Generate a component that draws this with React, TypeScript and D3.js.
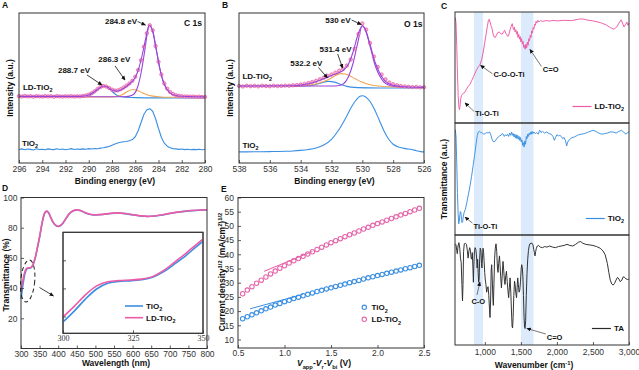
import { useRef, useEffect } from 'react';
import * as d3 from 'd3';

type Pt = [number, number];
type G = d3.Selection<SVGGElement, unknown, null, undefined>;
type Seg = { t: string; s?: 'sub' | 'sup'; i?: boolean };

const FONT = 'Arial, "Liberation Sans", Helvetica, sans-serif';
const PINK = '#ee5aa6';
const BLUE = '#3a8fe2';
const PURPLE = '#9a45d8';
const ORANGE = '#f0a552';
const DARK = '#2a2a2a';
const AXIS = '#333';
const BAND = '#dcebfb';

// ---- A: C 1s ----
const c1sEnergy = [296, 295.75, 295.5, 295.25, 295, 294.75, 294.5, 294.25, 294, 293.75, 293.5, 293.25, 293, 292.75, 292.5, 292.25, 292, 291.75, 291.5, 291.25, 291, 290.75, 290.5, 290.25, 290, 289.75, 289.5, 289.25, 289, 288.75, 288.5, 288.25, 288, 287.75, 287.5, 287.25, 287, 286.75, 286.5, 286.25, 286, 285.75, 285.5, 285.25, 285, 284.75, 284.5, 284.25, 284, 283.75, 283.5, 283.25, 283, 282.75, 282.5, 282.25, 282, 281.75, 281.5, 281.25, 281, 280.75, 280.5, 280.25, 280];
const c1sLD = [44.6, 44.3, 44.7, 44.4, 44.5, 44.2, 44.6, 44.4, 44.3, 44.6, 44.4, 44.5, 44.2, 44.6, 44.4, 44.3, 44.5, 44.4, 44.6, 44.3, 44.5, 44.4, 44.7, 45.0, 45.6, 46.5, 47.8, 49.3, 50.6, 51.3, 51.0, 50.0, 48.9, 48.3, 48.4, 49.2, 50.3, 51.6, 53.0, 54.8, 57.5, 62.0, 68.5, 77.5, 86.5, 91.8, 88.5, 78.0, 67.5, 59.0, 53.0, 49.5, 47.3, 46.0, 45.2, 44.8, 44.5, 44.3, 44.4, 44.2, 44.3, 44.1, 44.2, 44.0, 44.1];
const c1sTiO2 = [9.0, 9.4, 8.8, 9.3, 9.1, 8.7, 9.5, 9.0, 9.2, 8.8, 9.4, 9.1, 8.9, 9.5, 9.0, 9.3, 8.8, 9.2, 9.6, 9.0, 9.3, 9.1, 9.4, 9.2, 9.6, 9.3, 9.7, 9.5, 9.9, 10.2, 10.6, 11.0, 11.8, 12.6, 13.3, 13.8, 14.2, 14.3, 14.8, 15.6, 17.5, 21.5, 27.0, 32.5, 35.5, 36.2, 34.5, 29.5, 23.0, 17.0, 13.2, 11.2, 10.2, 9.6, 9.4, 9.1, 9.3, 8.9, 9.2, 8.8, 9.1, 8.9, 9.2, 8.8, 9.0];
const c1sFit: Pt[] = [[296, 44.4], [291, 44.4], [290.5, 44.6], [290, 45.4], [289.5, 47.6], [289, 50.4], [288.7, 51.3], [288.4, 50.6], [288, 48.6], [287.6, 47.9], [287.2, 48.8], [286.8, 50.8], [286.4, 53.5], [286, 57.0], [285.7, 63.0], [285.4, 72.0], [285.1, 83.0], [284.8, 91.8], [284.5, 88.0], [284.2, 76.0], [283.9, 63.5], [283.6, 54.5], [283.3, 49.5], [283, 46.8], [282.5, 45.0], [282, 44.5], [281, 44.2], [280, 44.1]];
const c1sPeak284: Pt[] = [[296, 44.2], [287, 44.2], [286.5, 44.6], [286.1, 46.0], [285.8, 50.5], [285.5, 60.0], [285.2, 74.0], [284.95, 87.0], [284.8, 91.8], [284.5, 88.0], [284.2, 76.0], [283.9, 63.5], [283.6, 54.5], [283.3, 49.5], [283, 46.8], [282.5, 45.0], [282, 44.5], [280, 44.1]];
const c1sPeak286: Pt[] = [[296, 44.0], [288, 44.0], [287.5, 44.5], [287, 46.0], [286.6, 48.0], [286.2, 49.0], [285.8, 48.3], [285.4, 46.8], [285, 45.5], [284.5, 44.6], [284, 44.2], [283, 43.8], [280, 43.6]];
const c1sPeak288: Pt[] = [[296, 44.2], [290.5, 44.3], [290, 44.9], [289.5, 47.0], [289.1, 50.0], [288.7, 51.3], [288.3, 50.0], [287.9, 47.0], [287.5, 44.9], [287, 44.0], [286, 43.6], [284, 43.4], [280, 43.3]];

// ---- B: O 1s ----
const o1sEnergy = [538, 537.75, 537.5, 537.25, 537, 536.75, 536.5, 536.25, 536, 535.75, 535.5, 535.25, 535, 534.75, 534.5, 534.25, 534, 533.75, 533.5, 533.25, 533, 532.75, 532.5, 532.25, 532, 531.75, 531.5, 531.25, 531, 530.75, 530.5, 530.25, 530, 529.75, 529.5, 529.25, 529, 528.75, 528.5, 528.25, 528, 527.75, 527.5, 527.25, 527, 526.75, 526.5, 526.25, 526];
const o1sLD = [51.4, 51.0, 51.5, 51.2, 51.4, 51.1, 51.5, 51.3, 51.2, 51.5, 51.3, 51.4, 51.6, 51.5, 51.8, 52.0, 52.3, 52.7, 53.3, 54.0, 54.8, 55.8, 56.9, 58.0, 59.0, 60.2, 61.5, 63.0, 65.0, 69.0, 76.0, 86.0, 93.0, 89.0, 80.0, 71.0, 64.0, 59.0, 55.8, 53.7, 52.5, 51.8, 51.3, 51.0, 50.8, 50.6, 50.7, 50.4, 50.5];
const o1sTiO2: Pt[] = [[538, 7.4], [537, 7.5], [536, 7.6], [535, 7.8], [534.5, 8.0], [534, 8.4], [533.5, 9.0], [533, 10.0], [532.5, 12.0], [532, 15.8], [531.5, 22.5], [531, 31.5], [530.7, 37.5], [530.4, 42.0], [530.2, 44.2], [530, 44.8], [529.8, 44.2], [529.5, 41.0], [529.2, 35.5], [528.9, 28.5], [528.6, 21.5], [528.3, 16.0], [528, 12.5], [527.6, 10.5], [527.2, 9.6], [526.8, 9.0], [526.5, 8.2], [526.2, 7.6], [526, 7.4]];
const o1sFit: Pt[] = [[538, 51.3], [534.5, 51.5], [534, 51.9], [533.5, 52.8], [533, 54.2], [532.5, 56.2], [532, 58.3], [531.5, 60.3], [531.2, 62.0], [530.9, 66.0], [530.6, 74.0], [530.3, 85.0], [530, 91.5], [529.8, 89.0], [529.5, 79.0], [529.2, 68.0], [528.9, 60.5], [528.6, 55.5], [528.3, 53.0], [528, 51.8], [527.5, 51.0], [527, 50.7], [526, 50.4]];
const o1sPeak530: Pt[] = [[538, 51.3], [532, 51.3], [531.5, 51.7], [531.2, 53.0], [530.9, 57.5], [530.6, 66.5], [530.3, 80.0], [530, 91.5], [529.8, 88.5], [529.5, 78.0], [529.2, 66.0], [528.9, 58.5], [528.6, 54.0], [528.3, 52.0], [528, 51.2], [527, 50.6], [526, 50.4]];
const o1sPeak531: Pt[] = [[538, 51.3], [534, 51.4], [533.5, 51.8], [533, 52.7], [532.5, 54.3], [532, 56.7], [531.7, 58.5], [531.4, 59.6], [531.1, 59.3], [530.8, 58.0], [530.4, 55.8], [530, 53.8], [529.5, 52.2], [529, 51.3], [528, 50.7], [526, 50.4]];
const o1sPeak532: Pt[] = [[538, 51.2], [534, 51.3], [533.5, 51.6], [533, 52.4], [532.6, 53.6], [532.2, 54.4], [531.8, 53.9], [531.4, 52.4], [531, 51.1], [530.5, 50.4], [529.5, 50.1], [528, 50.0], [526, 50.0]];

// ---- C: FTIR ----
const ftirBands: Pt[] = [[850, 975], [1500, 1675]];
const ftirLD: Pt[] = [[590, 95], [600, 90], [610, 70], [620, 45], [630, 25], [640, 14], [648, 12], [656, 15], [665, 22], [678, 25], [695, 26.5], [710, 27], [725, 28], [745, 30.5], [770, 33], [795, 35], [820, 38.5], [845, 42], [865, 45], [890, 48.5], [915, 51], [935, 53], [955, 57], [975, 63], [995, 71], [1015, 79], [1035, 87], [1050, 92.5], [1060, 93.5], [1072, 91], [1085, 88], [1100, 85], [1115, 80], [1130, 77.5], [1145, 77], [1160, 79], [1180, 81.5], [1200, 82], [1220, 80.5], [1240, 80], [1260, 82], [1275, 83.5], [1290, 81], [1305, 79.5], [1320, 78], [1335, 80], [1350, 84], [1365, 87], [1380, 89.5], [1390, 86], [1400, 84], [1410, 86.5], [1420, 82], [1430, 84], [1440, 80], [1450, 82.5], [1460, 77], [1470, 80], [1480, 75.5], [1490, 78], [1500, 73], [1510, 76], [1520, 71], [1530, 73.5], [1540, 68], [1550, 70], [1560, 66.5], [1570, 71], [1580, 67.5], [1590, 73], [1600, 70], [1610, 76], [1620, 74], [1630, 79], [1640, 77], [1650, 83], [1660, 81], [1670, 86], [1680, 84.5], [1690, 89], [1700, 88], [1710, 91.5], [1720, 90], [1735, 92.5], [1750, 91], [1770, 92.3], [1800, 91.5], [1850, 92.3], [1900, 91.8], [1950, 92.5], [2000, 92], [2100, 92.5], [2200, 92.2], [2300, 93.5], [2350, 93.8], [2400, 93], [2500, 92], [2600, 90.5], [2680, 88.5], [2740, 86], [2790, 84.5], [2830, 86.5], [2860, 90], [2890, 93], [2910, 90], [2930, 86.5], [2950, 88.5], [2970, 91], [2985, 88], [3000, 90]];
const ftirTiO2: Pt[] = [[590, 94], [600, 88], [610, 65], [620, 38], [630, 18], [638, 10], [645, 12], [652, 17], [660, 21], [668, 20], [676, 14], [684, 11], [692, 12], [700, 16], [712, 20], [730, 23], [750, 29], [770, 35.5], [795, 44], [815, 52], [840, 63], [860, 72], [880, 82], [895, 89], [910, 92], [925, 92.5], [945, 91.5], [965, 91], [985, 90], [1005, 90.5], [1025, 91.5], [1045, 91], [1065, 92], [1080, 90], [1095, 86.5], [1110, 84], [1125, 83], [1145, 84], [1165, 86], [1185, 87.5], [1205, 88.5], [1225, 89], [1240, 90.5], [1255, 90], [1270, 88], [1285, 89.5], [1300, 88.5], [1315, 90], [1330, 88], [1345, 91], [1360, 89], [1372, 92], [1385, 89], [1395, 90.5], [1405, 87.5], [1415, 90], [1425, 86.5], [1435, 89.5], [1445, 86], [1455, 89], [1465, 85.5], [1475, 88], [1485, 84.5], [1495, 87], [1505, 83], [1515, 85], [1525, 80], [1535, 82.5], [1545, 78.5], [1555, 84], [1565, 81], [1575, 88], [1585, 86], [1595, 90], [1605, 88], [1615, 91], [1625, 89.5], [1635, 92], [1645, 90], [1655, 92.5], [1665, 90.5], [1680, 92], [1700, 90.5], [1720, 91.5], [1740, 90], [1760, 93.5], [1780, 91.5], [1800, 92.5], [1830, 91], [1860, 92], [1890, 90.5], [1920, 90], [1945, 88], [1965, 84.5], [1980, 87], [2000, 89.5], [2020, 88.5], [2040, 89], [2060, 88], [2080, 86], [2100, 87], [2120, 84], [2135, 79.5], [2150, 83], [2170, 85], [2190, 86], [2210, 87], [2240, 87.5], [2270, 88.5], [2300, 89.5], [2340, 90], [2380, 90.5], [2420, 91.5], [2460, 92.5], [2500, 93.5], [2540, 92.5], [2580, 91], [2620, 90], [2660, 90.5], [2700, 91], [2740, 92], [2780, 92], [2820, 91], [2860, 92.5], [2895, 93.5], [2930, 91.5], [2960, 90], [2980, 91.5], [3000, 92]];
const ftirTA: Pt[] = [[590, 92], [600, 91], [610, 86], [618, 83], [628, 90], [640, 93], [652, 88], [662, 79], [672, 75], [682, 55], [690, 40], [697, 55], [705, 85], [715, 92], [730, 92.5], [745, 91.5], [757, 86], [768, 79], [778, 85], [790, 88.5], [800, 86], [810, 79], [818, 78], [826, 84], [835, 70], [841, 57], [847, 72], [856, 86], [865, 88.5], [875, 87], [885, 80], [893, 70], [900, 78], [907, 66], [914, 57], [921, 60], [928, 78], [936, 88], [946, 86], [954, 74], [960, 70], [967, 80], [975, 88], [983, 84], [990, 76], [998, 66], [1005, 60], [1015, 55], [1025, 48], [1035, 52], [1045, 53], [1055, 45], [1065, 32], [1072, 25], [1080, 40], [1088, 68], [1095, 73], [1103, 60], [1112, 42], [1118, 36], [1126, 55], [1135, 78], [1145, 88], [1155, 92], [1165, 85], [1175, 70], [1183, 66], [1192, 74], [1203, 81], [1212, 72], [1222, 60], [1230, 52], [1240, 62], [1252, 76], [1262, 68], [1272, 58], [1280, 55], [1290, 63], [1300, 67], [1310, 58], [1320, 50], [1330, 43], [1340, 52], [1350, 61], [1360, 48], [1370, 30], [1378, 17], [1385, 15.5], [1392, 25], [1402, 45], [1412, 58], [1420, 55], [1430, 47], [1440, 43], [1448, 52], [1456, 61], [1465, 55], [1475, 48], [1485, 50], [1495, 58], [1505, 70], [1512, 73], [1520, 70], [1528, 62], [1536, 45], [1544, 25], [1552, 16], [1558, 15], [1566, 22], [1575, 45], [1585, 65], [1595, 78], [1605, 86], [1615, 90], [1625, 92], [1640, 92.5], [1655, 92.5], [1668, 91], [1678, 87], [1688, 84], [1696, 81], [1705, 85], [1715, 88], [1728, 90], [1745, 90.5], [1770, 89], [1800, 88.5], [1830, 89.5], [1860, 89], [1900, 90], [1940, 89], [1980, 88.5], [2020, 89.5], [2060, 90], [2100, 90.5], [2140, 91.5], [2180, 90.5], [2220, 90], [2260, 91.5], [2300, 93.5], [2330, 94], [2360, 92.5], [2400, 91.5], [2450, 91], [2500, 90.5], [2550, 89.5], [2600, 88], [2640, 85.5], [2670, 82], [2700, 74], [2720, 66], [2740, 59], [2760, 55.5], [2780, 54.5], [2800, 56], [2820, 59], [2840, 61.5], [2860, 60], [2880, 57.5], [2900, 59], [2920, 62], [2940, 61.5], [2960, 60], [2980, 59.5], [3000, 60]];

// ---- D: UV-vis transmittance ----
const uvWave = [300, 305, 310, 315, 320, 325, 330, 335, 340, 345, 350, 355, 360, 365, 370, 375, 380, 385, 390, 395, 400, 405, 410, 420, 430, 440, 450, 460, 470, 480, 490, 500, 520, 540, 560, 580, 600, 620, 640, 660, 680, 700, 720, 740, 760, 780, 800];
const uvLD = [38, 45, 50.5, 53, 53.5, 53.5, 54.5, 57.5, 62, 68, 74, 81, 87, 90.3, 91, 89.6, 86.8, 84.2, 82.4, 81.4, 81, 81.3, 82.3, 85.8, 89.3, 91.2, 91.8, 91.4, 90.3, 89.3, 88.7, 88.5, 88.8, 89.5, 89.8, 89.4, 88.6, 87.9, 87.5, 87.8, 88.6, 89.5, 90.3, 90.9, 91.4, 91.7, 91.8];
const uvTiO2 = [33, 42, 49, 52.5, 53.2, 53.3, 54.3, 57.2, 61.7, 67.7, 73.7, 80.8, 86.8, 90.2, 90.9, 89.5, 86.7, 84.1, 82.3, 81.3, 80.9, 81.2, 82.2, 85.7, 89.2, 91.1, 91.7, 91.3, 90.2, 89.2, 88.6, 88.4, 88.7, 89.4, 89.7, 89.3, 88.5, 87.8, 87.4, 87.7, 88.5, 89.4, 90.2, 90.8, 91.3, 91.6, 91.7];
const insetWave = [300, 304, 308, 312, 316, 320, 324, 328, 332, 336, 340, 344, 348, 350];
const insetLD = [39.8, 43.6, 47.7, 50.9, 52.4, 52.8, 53.0, 53.3, 54.2, 56.4, 59.5, 62.6, 66.0, 67.6];
const insetTiO2 = [38.0, 41.9, 46.2, 49.8, 51.8, 52.5, 52.7, 53.1, 54.0, 56.0, 58.8, 61.8, 65.2, 66.8];

// ---- E: Mott-Schottky style J^1/2 vs V ----
const volts = [0.55, 0.6, 0.65, 0.7, 0.75, 0.8, 0.85, 0.9, 0.95, 1.0, 1.05, 1.1, 1.15, 1.2, 1.25, 1.3, 1.35, 1.4, 1.45, 1.5, 1.55, 1.6, 1.65, 1.7, 1.75, 1.8, 1.85, 1.9, 1.95, 2.0, 2.05, 2.1, 2.15, 2.2, 2.25, 2.3, 2.35, 2.4, 2.45];
const jTiO2 = [17.3, 18.0, 18.7, 19.4, 20.1, 20.8, 21.4, 22.1, 22.7, 23.3, 23.8, 24.4, 24.9, 25.4, 25.9, 26.4, 26.9, 27.3, 27.8, 28.2, 28.7, 29.1, 29.5, 30.0, 30.4, 30.8, 31.3, 31.7, 32.1, 32.5, 32.9, 33.3, 33.7, 34.1, 34.5, 34.9, 35.3, 35.7, 36.1];
const jLD = [26.1, 27.4, 28.6, 29.8, 30.9, 32.0, 33.1, 34.1, 35.1, 36.0, 36.9, 37.7, 38.5, 39.3, 40.1, 40.9, 41.7, 42.5, 43.3, 44.1, 44.8, 45.5, 46.2, 46.9, 47.5, 48.2, 48.9, 49.5, 50.2, 50.8, 51.4, 52.0, 52.6, 53.2, 53.8, 54.4, 55.0, 55.6, 56.2];
const fitTiO2: Pt[] = [[0.63, 20.8], [1.2, 25.9]];
const fitLD: Pt[] = [[0.78, 34.0], [1.3, 41.0]];

const sub2 = (a: string): Seg[] => [{ t: a }, { t: '2', s: 'sub' }];

function rich(g: G, x: number, y: number, segs: Seg[] | string, size: number,
  o: { bold?: boolean; anchor?: string; rotate?: boolean; family?: string; fill?: string } = {}) {
  const list: Seg[] = typeof segs === 'string' ? [{ t: segs }] : segs;
  const t = g.append('text')
    .attr('font-family', o.family ?? FONT)
    .attr('font-size', size)
    .attr('font-weight', o.bold ? 'bold' : 'normal')
    .attr('fill', o.fill ?? '#111')
    .attr('text-anchor', o.anchor ?? 'start');
  if (o.rotate) t.attr('transform', `translate(${x},${y}) rotate(-90)`);
  else t.attr('x', x).attr('y', y);
  let shift = 0;
  list.forEach((s) => {
    const target = s.s === 'sub' ? size * 0.3 : s.s === 'sup' ? -size * 0.38 : 0;
    const ts = t.append('tspan').attr('dy', target - shift).text(s.t);
    if (s.s) ts.attr('font-size', size * 0.68);
    if (s.i) ts.attr('font-style', 'italic');
    shift = target;
  });
  return t;
}

function path(g: G, data: Pt[], x: any, y: any, color: string, width: number, curve: any = d3.curveMonotoneX) {
  const ln = d3.line<Pt>().x((d) => x(d[0])).y((d) => y(d[1])).curve(curve);
  g.append('path').datum(data).attr('d', ln).attr('fill', 'none')
    .attr('stroke', color).attr('stroke-width', width).attr('stroke-linejoin', 'round');
}

function arrow(g: G, x1: number, y1: number, x2: number, y2: number, color = '#111') {
  g.append('line').attr('x1', x1).attr('y1', y1).attr('x2', x2).attr('y2', y2)
    .attr('stroke', color).attr('stroke-width', 0.8).attr('marker-end', 'url(#ah)');
}

function frame(g: G, x: any, y: any, fill = 'none') {
  const [x0, x1] = d3.extent(x.range() as number[]) as [number, number];
  const [y0, y1] = d3.extent(y.range() as number[]) as [number, number];
  g.append('rect').attr('x', x0).attr('y', y0).attr('width', x1 - x0).attr('height', y1 - y0)
    .attr('fill', fill).attr('stroke', AXIS).attr('stroke-width', 1);
}

function styleAxis(a: G, size = 8.5, family = FONT) {
  a.select('.domain').remove();
  a.attr('font-size', size).attr('font-family', family).attr('color', AXIS);
  a.selectAll('line').attr('stroke-width', 0.8);
}

function bottomAxis(g: G, x: any, y: number, ticks: number[], pad: number, fmt?: (d: number) => string) {
  const ax = d3.axisBottom(x).tickValues(ticks).tickSizeInner(-3).tickSizeOuter(0).tickPadding(pad);
  if (fmt) ax.tickFormat((d: any) => fmt(d));
  const a = g.append('g').attr('transform', `translate(0,${y})`).call(ax as any) as G;
  styleAxis(a);
}

function leftAxis(g: G, y: any, x: number, ticks: number[], pad: number) {
  const ax = d3.axisLeft(y).tickValues(ticks).tickSizeInner(-3).tickSizeOuter(0).tickPadding(pad)
    .tickFormat((d: any) => d3.format('d')(d));
  const a = g.append('g').attr('transform', `translate(${x},0)`).call(ax as any) as G;
  styleAxis(a);
}

function drawXps(root: G, cfg: {
  domain: [number, number]; xr: [number, number]; energy: number[]; raw: number[];
  ref: Pt[]; refCurve: any; comps: [Pt[], string][]; fit: Pt[]; ticks: number[];
}) {
  const g = root.append('g') as G;
  const x = d3.scaleLinear().domain(cfg.domain).range(cfg.xr);
  const y = d3.scaleLinear().domain([0, 100]).range([163, 13]);
  path(g, cfg.ref, x, y, BLUE, 1.1, cfg.refCurve);
  cfg.comps.forEach(([d, c]) => path(g, d, x, y, c, 1.1));
  g.append('g').selectAll('circle').data(cfg.energy.map((e, i) => [e, cfg.raw[i]] as Pt)).join('circle')
    .attr('cx', (d) => x(d[0])).attr('cy', (d) => y(d[1])).attr('r', 1.7)
    .attr('fill', '#f6b3d4').attr('stroke', '#e6559e').attr('stroke-width', 0.7);
  path(g, cfg.fit, x, y, PURPLE, 1.1);
  frame(g, x, y);
  bottomAxis(g, x, 163, cfg.ticks, 3);
  const cx = (cfg.xr[0] + cfg.xr[1]) / 2;
  rich(g, cx + 3, 184, 'Binding energy (eV)', 8.5, { bold: true, anchor: 'middle' });
  rich(g, cfg.xr[0] - 6, 88, 'Intensity (a.u.)', 8.5, { bold: true, anchor: 'middle', rotate: true });
  return { g, x, y };
}

function drawA(root: G) {
  const { g, x, y } = drawXps(root, {
    domain: [296, 280], xr: [19, 205], energy: c1sEnergy, raw: c1sLD,
    ref: c1sEnergy.map((e, i) => [e, c1sTiO2[i]] as Pt), refCurve: d3.curveLinear,
    comps: [[c1sPeak288, BLUE], [c1sPeak286, ORANGE], [c1sPeak284, PURPLE]],
    fit: c1sFit, ticks: d3.range(296, 279, -2),
  });
  rich(g, x(285.85), y(92.7), '284.8 eV', 8, { bold: true, anchor: 'end' });
  arrow(g, x(285.8), y(94.3), x(285.12), y(92));
  rich(g, x(287.8), y(67.3), '286.3 eV', 8, { bold: true, anchor: 'middle' });
  arrow(g, x(287.74), y(64.7), x(286.88), y(55.3));
  rich(g, x(291.27), y(59.7), '288.7 eV', 8, { bold: true, anchor: 'middle' });
  arrow(g, x(290.15), y(58.7), x(288.86), y(52));
  rich(g, x(295.66), y(49), sub2('LD-TiO'), 8, { bold: true });
  rich(g, x(295.75), y(11.3), sub2('TiO'), 8, { bold: true });
  rich(g, x(280.26), y(91.3), 'C 1s', 8.5, { bold: true, anchor: 'end' });
  rich(root, 2, 8, 'A', 8.5, { bold: true });
}

function drawB(root: G) {
  const { g, x, y } = drawXps(root, {
    domain: [538, 526], xr: [239, 424], energy: o1sEnergy, raw: o1sLD,
    ref: o1sTiO2, refCurve: d3.curveMonotoneX,
    comps: [[o1sPeak532, BLUE], [o1sPeak531, ORANGE], [o1sPeak530, PURPLE]],
    fit: o1sFit, ticks: d3.range(538, 525, -2),
  });
  rich(g, x(530.76), y(93.3), '530 eV', 8, { bold: true, anchor: 'end' });
  arrow(g, x(530.69), y(95.3), x(530.07), y(92.3));
  rich(g, x(531.74), y(74), '531.4 eV', 8, { bold: true, anchor: 'middle' });
  arrow(g, x(531.6), y(72.7), x(531.28), y(63.3));
  rich(g, x(533.63), y(65), '532.2 eV', 8, { bold: true, anchor: 'middle' });
  arrow(g, x(532.85), y(63.7), x(532.26), y(56.7));
  rich(g, x(537.78), y(56), sub2('LD-TiO'), 8, { bold: true });
  rich(g, x(537.78), y(10), sub2('TiO'), 8, { bold: true });
  rich(g, x(526.1), y(90.7), 'O 1s', 8.5, { bold: true, anchor: 'end' });
  rich(root, 222, 8, 'B', 8.5, { bold: true });
}

function drawC(root: G) {
  const g = root.append('g') as G;
  const x = d3.scaleLinear().domain([586, 3000]).range([455, 629]);
  const rows: [number, number][] = [[12, 123], [123, 235], [235, 345]];
  const ys = rows.map(([t, b]) => d3.scaleLinear().domain([0, 100]).range([b, t]));
  g.selectAll('rect.band').data(ftirBands).join('rect').attr('class', 'band')
    .attr('x', (d) => x(d[0])).attr('width', (d) => x(d[1]) - x(d[0]))
    .attr('y', 12).attr('height', 345 - 12).attr('fill', BAND);
  const series: [Pt[], string][] = [[ftirLD, PINK], [ftirTiO2, BLUE], [ftirTA, DARK]];
  series.forEach(([d, c], i) => path(g, d, x, ys[i], c, 0.95, d3.curveLinear));
  ys.forEach((y) => frame(g, x, y));
  bottomAxis(g, x, 345, [1000, 1500, 2000, 2500, 3000], 3.5);

  // legends
  const legend: [Seg[], string][] = [[sub2('LD-TiO'), PINK], [sub2('TiO'), BLUE], [[{ t: 'TA' }], DARK]];
  legend.forEach(([txt, c], i) => {
    const by = rows[i][1];
    const t = rich(g, 624, by - 14, txt, 8, { bold: true, anchor: 'end' });
    const w = (t.node() as SVGTextElement).getComputedTextLength();
    g.append('line').attr('x1', 624 - w - 22).attr('x2', 624 - w - 3)
      .attr('y1', by - 16.5).attr('y2', by - 16.5).attr('stroke', c).attr('stroke-width', 1.2);
  });

  const [yt, ym, yb] = ys;
  const gray = '#555';
  rich(g, x(863), yt(6), 'Ti-O-Ti', 7.5, { bold: true });
  arrow(g, x(849), yt(10.5), x(724), yt(18.2), gray);
  rich(g, x(1119), yt(41.2), 'C-O-O-Ti', 7.5, { bold: true });
  arrow(g, x(1105), yt(44.3), x(939), yt(52), gray);
  rich(g, x(1805), yt(45.7), 'C=O', 7.5, { bold: true });
  arrow(g, x(1784), yt(51), x(1625), yt(66.4), gray);
  rich(g, x(842), ym(5.5), 'Ti-O-Ti', 7.5, { bold: true });
  arrow(g, x(828), ym(10.7), x(724), ym(16), gray);
  rich(g, x(814), yb(37.3), 'C-O', 7.5, { bold: true });
  arrow(g, x(891), yb(45.5), x(932), yb(57.3), gray);
  rich(g, x(1860), yb(5), 'C=O', 7.5, { bold: true });
  arrow(g, x(1846), yb(10), x(1583), yb(15), gray);

  rich(g, 534, 368, [{ t: 'Wavenumber (cm' }, { t: '-1', s: 'sup' }, { t: ')' }], 8.5, { bold: true, anchor: 'middle' });
  rich(g, 447, 179, 'Transmittance (a.u.)', 8.5, { bold: true, anchor: 'middle', rotate: true });
  rich(root, 441, 9, 'C', 8.5, { bold: true });
}

function drawD(root: G) {
  const g = root.append('g') as G;
  const x = d3.scaleLinear().domain([300, 800]).range([21, 207]);
  const y = d3.scaleLinear().domain([0, 100]).range([348.5, 197.5]);
  const lineOf = (w: number[], v: number[]) => w.map((d, i) => [d, v[i]] as Pt);
  path(g, lineOf(uvWave, uvTiO2), x, y, BLUE, 1.6);
  path(g, lineOf(uvWave, uvLD), x, y, PINK, 1.6);
  frame(g, x, y);
  bottomAxis(g, x, 348.5, d3.range(300, 801, 50), 2);
  leftAxis(g, y, 21, [20, 40, 60, 80, 100], 3.5);

  // zoom ellipse + arrow
  g.append('ellipse').attr('cx', 0).attr('cy', 0).attr('rx', 7).attr('ry', 21)
    .attr('transform', `translate(${x(318)},${y(44.7)}) rotate(5)`)
    .attr('fill', 'none').attr('stroke', '#222').attr('stroke-width', 1).attr('stroke-dasharray', '4,3');
  arrow(g, x(349.7), y(40.4), x(387.4), y(34.8));

  // inset
  const ix = d3.scaleLinear().domain([300, 350]).range([63, 203]);
  const iy = d3.scaleLinear().domain([34, 70]).range([333.3, 232.3]);
  frame(g, ix, iy, '#fff');
  path(g, lineOf(insetWave, insetTiO2), ix, iy, BLUE, 1.6);
  path(g, lineOf(insetWave, insetLD), ix, iy, PINK, 1.6);
  frame(g, ix, iy);
  const ia = g.append('g').attr('transform', `translate(0,${333.3})`)
    .call(d3.axisBottom(ix).tickValues([300, 325, 350]).tickSizeInner(-3).tickSizeOuter(0).tickPadding(2) as any) as G;
  styleAxis(ia, 8, '"Liberation Serif", "Times New Roman", serif');
  const il = g.append('g').attr('transform', `translate(63,0)`)
    .call(d3.axisLeft(iy).tickValues([40, 50, 60]).tickSizeInner(-3).tickSizeOuter(0).tickFormat(() => '') as any) as G;
  styleAxis(il);
  const leg: [Seg[], string][] = [[sub2('TiO'), BLUE], [sub2('LD-TiO'), PINK]];
  leg.forEach(([t, c], i) => {
    const ly = 306 + i * 11.7;
    g.append('line').attr('x1', 125).attr('x2', 143).attr('y1', ly).attr('y2', ly).attr('stroke', c).attr('stroke-width', 1.6);
    rich(g, 146, ly + 2.8, t, 8, { bold: true });
  });

  rich(g, 116, 366, 'Wavelength (nm)', 8.5, { bold: true, anchor: 'middle' });
  rich(g, 8.5, 275, 'Transmittance (%)', 8.5, { bold: true, anchor: 'middle', rotate: true });
  rich(root, 2, 191, 'D', 8.5, { bold: true });
}

function drawE(root: G) {
  const g = root.append('g') as G;
  const x = d3.scaleLinear().domain([0.5, 2.5]).range([238, 424]);
  const y = d3.scaleLinear().domain([7, 60]).range([348, 197.5]);
  path(g, fitTiO2, x, y, BLUE, 1, d3.curveLinear);
  path(g, fitLD, x, y, PINK, 1, d3.curveLinear);
  const sets: [number[], string][] = [[jTiO2, BLUE], [jLD, '#e466aa']];
  sets.forEach(([vals, c]) => {
    g.append('g').selectAll('circle').data(volts.map((v, i) => [v, vals[i]] as Pt)).join('circle')
      .attr('cx', (d) => x(d[0])).attr('cy', (d) => y(d[1])).attr('r', 2.2)
      .attr('fill', 'none').attr('stroke', c).attr('stroke-width', 1.1);
  });
  frame(g, x, y);
  bottomAxis(g, x, 348, [0.5, 1.0, 1.5, 2.0, 2.5], 2, d3.format('.1f'));
  leftAxis(g, y, 238, d3.range(10, 61, 5), 4);

  const leg: [Seg[], string][] = [[sub2('TiO'), BLUE], [sub2('LD-TiO'), '#e466aa']];
  leg.forEach(([t, c], i) => {
    const ly = 307.3 + i * 12;
    g.append('circle').attr('cx', 364.3).attr('cy', ly).attr('r', 2.2).attr('fill', 'none').attr('stroke', c).attr('stroke-width', 1.1);
    rich(g, 371.5, ly + 2.8, t, 8, { bold: true });
  });

  rich(g, 324, 366, [
    { t: 'V', i: true }, { t: 'app', s: 'sub' }, { t: '-' }, { t: 'V', i: true }, { t: 'r', s: 'sub' },
    { t: '-' }, { t: 'V', i: true }, { t: 'bi', s: 'sub' }, { t: ' (V)' },
  ], 8.5, { bold: true, anchor: 'middle' });
  rich(g, 225, 272, [
    { t: 'Current density' }, { t: '1/2', s: 'sup' }, { t: ' (mA/cm' }, { t: '2', s: 'sup' }, { t: ')' }, { t: '1/2', s: 'sup' },
  ], 8.5, { bold: true, anchor: 'middle', rotate: true });
  rich(root, 221, 192, 'E', 8.5, { bold: true });
}

export default function App() {
  const svgRef = useRef<SVGSVGElement | null>(null);

  useEffect(() => {
    if (!svgRef.current) return;
    const svg = d3.select(svgRef.current);
    svg.selectAll('*').remove();

    const defs = svg.append('defs');
    defs.append('marker').attr('id', 'ah').attr('viewBox', '0 0 10 10')
      .attr('refX', 9).attr('refY', 5).attr('markerWidth', 4.5).attr('markerHeight', 4.5)
      .attr('markerUnits', 'userSpaceOnUse').attr('orient', 'auto')
      .append('path').attr('d', 'M0,0.5L10,5L0,9.5Z').attr('fill', '#111');

    const root = svg.append('g') as unknown as G;
    drawA(root);
    drawB(root);
    drawC(root);
    drawD(root);
    drawE(root);
  }, []);

  return (
    <svg ref={svgRef} width={639} height={370}
      style={{ position: 'absolute', left: 0, top: 0, background: '#fff' }} />
  );
}
